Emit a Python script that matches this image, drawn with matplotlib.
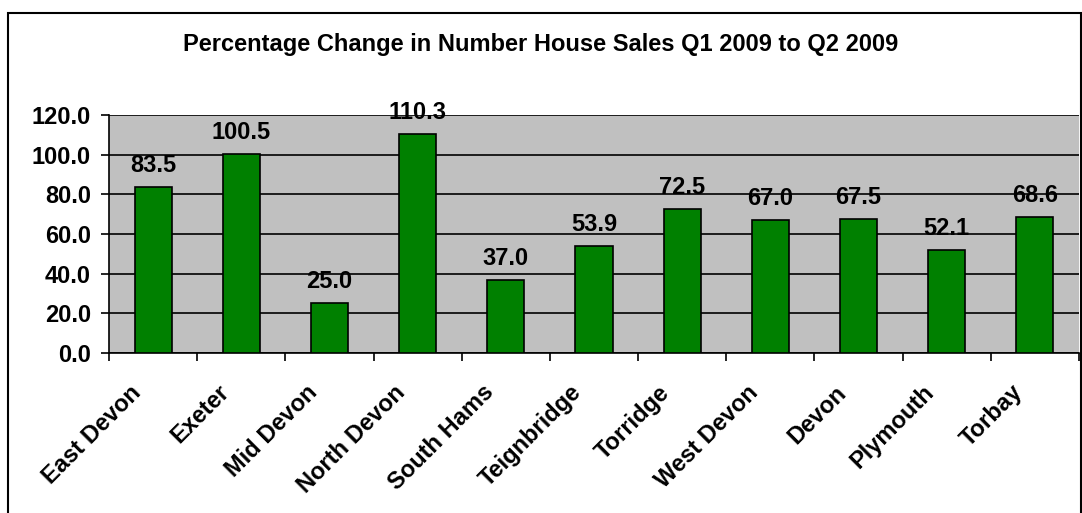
import matplotlib.pyplot as plt
from matplotlib.patches import Rectangle
from matplotlib.transforms import ScaledTranslation
import numpy as np

plt.rcParams['font.family'] = ['Liberation Sans', 'DejaVu Sans']
plt.rcParams['font.weight'] = 'bold'

# Percentage change in house sales, Q1 2009 -> Q2 2009
areas = ['East Devon', 'Exeter', 'Mid Devon', 'North Devon', 'South Hams',
         'Teignbridge', 'Torridge', 'West Devon', 'Devon', 'Plymouth', 'Torbay']
pct_change = [83.5, 100.5, 25.0, 110.3, 37.0, 53.9, 72.5, 67.0, 67.5, 52.1, 68.6]
yticks = [0, 20, 40, 60, 80, 100, 120]

fig = plt.figure(figsize=(10.82, 5.13), dpi=100)
ax = fig.add_axes([109 / 1082, 1 - 353 / 513, (1079 - 109) / 1082, (353 - 115) / 513])

# outer chart border
fig.patches.append(Rectangle((8 / 1082, -0.01), (1081 - 8) / 1082, 1 - 13 / 513 + 0.01,
                             transform=fig.transFigure, fill=False,
                             edgecolor='black', linewidth=1.5))

x = np.arange(len(areas))
ax.set_facecolor('#C0C0C0')
ax.bar(x, pct_change, width=0.42, color='#008000', edgecolor='black',
       linewidth=1.2, zorder=3)

for xi, v in zip(x, pct_change):
    ax.text(xi, v + 5, f'{v:.1f}', ha='center', va='bottom',
            fontsize=17, fontweight='bold', zorder=4)

ax.set_xlim(-0.5, len(areas) - 0.5)
ax.set_ylim(0, 120)
ax.set_yticks(yticks)
ax.set_yticklabels([f'{t:.1f}' for t in yticks], fontsize=17, fontweight='bold')
ax.yaxis.grid(True, color='black', linewidth=1.2, zorder=1)
ax.set_axisbelow(True)

ax.set_xticks(x)
ax.set_xticklabels(areas, rotation=45, ha='right', rotation_mode='anchor',
                   fontsize=17, fontweight='bold')
ax.tick_params(axis='x', length=0, pad=20)
shift = ScaledTranslation(-24 / 100, 0, fig.dpi_scale_trans)
for lbl in ax.get_xticklabels():
    lbl.set_transform(lbl.get_transform() + shift)
ax.set_xticks(np.arange(len(areas) + 1) - 0.5, minor=True)
ax.tick_params(axis='x', which='minor', length=6, width=1.2)
ax.tick_params(axis='y', length=6, width=1.2, pad=7)

for side in ['left', 'bottom']:
    ax.spines[side].set_linewidth(1.2)
for side in ['top', 'right']:
    ax.spines[side].set_visible(False)

fig.text(0.5, 1 - 45 / 513, 'Percentage Change in Number House Sales Q1 2009 to Q2 2009',
         ha='center', va='center', fontsize=17, fontweight='bold')

fig.savefig('out.png', dpi=100)
